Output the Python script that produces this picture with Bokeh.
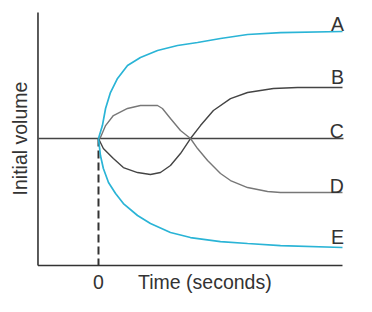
from bokeh.plotting import figure
from bokeh.models import Range1d
from bokeh.core.properties import value
from bokeh.embed import file_html
from bokeh.resources import INLINE
import math

# ---- data (time in arbitrary units 0..10, volume relative to initial = 1) ----
a_t = [0, 0.16, 0.29, 0.49, 0.78, 1.19, 1.72, 2.42, 3.24, 4.06, 5.00, 6.11, 7.46, 10.0]
a_v = [1.0, 1.120, 1.278, 1.426, 1.556, 1.676, 1.750, 1.815, 1.861, 1.889, 1.926, 1.963, 1.981, 1.991]

b_t = [0, 0.20, 0.61, 1.02, 1.60, 2.13, 2.54, 2.95, 3.36, 3.77, 4.18, 4.71, 5.41, 6.11, 7.17, 8.16, 10.0]
b_v = [1.0, 0.907, 0.815, 0.731, 0.685, 0.667, 0.685, 0.750, 0.861, 1.0, 1.120, 1.259, 1.370, 1.426, 1.463, 1.472, 1.472]

c_t = [-2.46, 10.04]
c_v = [1.0, 1.0]

d_t = [0, 0.08, 0.29, 0.61, 1.19, 1.72, 2.42, 2.62, 2.95, 3.36, 3.77, 4.06, 4.47, 5.00, 5.41, 6.11, 6.93, 7.46, 10.0]
d_v = [1.0, 1.009, 1.120, 1.213, 1.278, 1.306, 1.306, 1.278, 1.185, 1.074, 1.0, 0.907, 0.796, 0.676, 0.611, 0.546, 0.509, 0.500, 0.500]

e_t = [0, 0.08, 0.20, 0.41, 0.70, 1.02, 1.60, 2.13, 2.95, 3.77, 5.00, 6.11, 7.46, 10.0]
e_v = [1.0, 0.843, 0.722, 0.593, 0.491, 0.398, 0.287, 0.213, 0.130, 0.083, 0.046, 0.028, 0.009, -0.009]

series_labels = ["A", "B", "C", "D", "E"]
label_v = [2.062, 1.571, 1.067, 0.562, 0.090]

x_tick_label = "0"
x_title = "Time (seconds)"
y_title = "Initial volume"

# ---- layout constants ----
X0, X1 = -4.016, 11.23
Y0, Y1 = -0.611, 2.278
AX_T = -2.48      # y axis position
AX_V = -0.176     # x axis position
TOP_V = 2.167
RIGHT_T = 10.0
TXT_V = -0.333
FONT = value("Liberation Sans")
FS = "19.5px"
TXT = "#333333"
CYAN = "#2ab4d6"

p = figure(width=372, height=312, output_backend="svg", toolbar_location=None,
           x_range=Range1d(X0, X1), y_range=Range1d(Y0, Y1),
           min_border=0, x_axis_type=None, y_axis_type=None)
p.outline_line_color = None
p.grid.visible = False
p.background_fill_color = "white"
p.border_fill_color = "white"

# axes
p.line([AX_T, AX_T], [TOP_V, AX_V], line_color="#333333", line_width=1.6)
p.line([AX_T, RIGHT_T], [AX_V, AX_V], line_color="#333333", line_width=1.6)

# dashed line at t=0
p.line([0, 0], [1.0, AX_V], line_color="#333333", line_width=2, line_dash="8 4")

# curves
p.line(c_t, c_v, line_color="#444444", line_width=1.5)
p.line(b_t, b_v, line_color="#444444", line_width=1.4)
p.line(d_t, d_v, line_color="#777777", line_width=1.4)
p.line(a_t, a_v, line_color=CYAN, line_width=1.7)
p.line(e_t, e_v, line_color=CYAN, line_width=1.7)

# series labels
p.text(x=[10.06] * len(series_labels), y=label_v, text=series_labels,
       text_font=FONT, text_font_size=FS, text_color=TXT,
       text_align="right", text_baseline="alphabetic")

# axis texts
p.text(x=[0], y=[TXT_V], text=[x_tick_label], text_font=FONT, text_font_size=FS,
       text_color=TXT, text_align="center", text_baseline="alphabetic")
p.text(x=[1.62], y=[TXT_V], text=[x_title], text_font=FONT, text_font_size=FS,
       text_color=TXT, text_align="left", text_baseline="alphabetic")
p.text(x=[-3.197], y=[1.0], text=[y_title], angle=math.pi / 2, text_font=FONT,
       text_font_size=FS, text_color=TXT, text_align="center", text_baseline="middle")

open("out.html", "w").write(file_html(p, INLINE))
